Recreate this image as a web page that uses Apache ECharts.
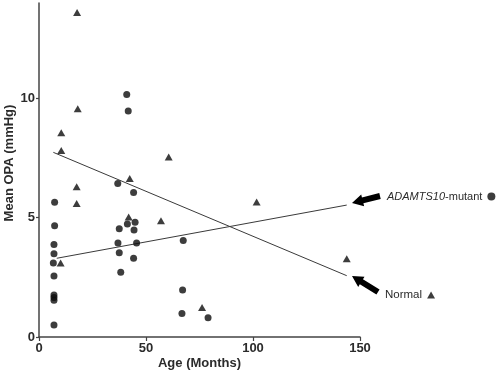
<!DOCTYPE html>
<html>
<head>
<meta charset="utf-8">
<script src="https://cdn.jsdelivr.net/npm/echarts@6/dist/echarts.min.js"></script>
<style>html,body{margin:0;padding:0;background:#fff;}#c{width:498px;height:373px;}</style>
</head>
<body>
<div id="c"></div>
<script>
// Age (months) and mean OPA (mmHg) — ADAMTS10-mutant dogs (circles)
var mutantAge = [7.3, 7.3, 7.0, 7.0, 6.7, 7.0, 7.0, 7.0, 7.0, 7.0,
  41.0, 41.7, 36.8, 44.2, 41.3, 44.9, 37.5, 44.4, 36.9, 45.6, 37.5, 44.2, 38.2,
  67.4, 67.1, 66.8, 79.0];
var mutantOPA = [5.65, 4.66, 3.88, 3.49, 3.10, 2.56, 1.76, 1.66, 1.54, 0.50,
  10.16, 9.47, 6.43, 6.06, 4.74, 4.81, 4.54, 4.48, 3.94, 3.94, 3.53, 3.30, 2.71,
  4.04, 1.97, 0.98, 0.81];
// Normal dogs (triangles)
var normalAge = [17.8, 18.1, 10.4, 10.4, 60.6, 42.4, 17.6, 17.6, 41.9, 57.0, 10.1, 101.7, 76.2, 143.8];
var normalOPA = [13.6, 9.57, 8.56, 7.82, 7.54, 6.64, 6.30, 5.60, 5.03, 4.87, 3.10, 5.66, 1.24, 3.28];
// Regression line end points [age, OPA]
var mutantFit = [[8.3, 3.30], [143.8, 5.53]];
var normalFit = [[6.7, 7.74], [143.8, 2.57]];
// Tick values
var xTicks = [0, 50, 100, 150];
var yTicks = [0, 5, 10];

function pairs(a, b) { return a.map(function (v, i) { return [v, b[i]]; }); }

function arrow(tip, tail, shaftW, headW, headL) {
  var dx = tail[0] - tip[0], dy = tail[1] - tip[1];
  var len = Math.sqrt(dx * dx + dy * dy);
  var ux = dx / len, uy = dy / len, px = -uy, py = ux;
  var bx = tip[0] + ux * headL, by = tip[1] + uy * headL;
  return [
    tip,
    [bx + px * headW / 2, by + py * headW / 2],
    [bx + px * shaftW / 2, by + py * shaftW / 2],
    [tail[0] + px * shaftW / 2, tail[1] + py * shaftW / 2],
    [tail[0] - px * shaftW / 2, tail[1] - py * shaftW / 2],
    [bx - px * shaftW / 2, by - py * shaftW / 2],
    [bx - px * headW / 2, by - py * headW / 2]
  ];
}

var ink = '#0d0d0d';
var txt = '#2b2b2b';
var font = '"Liberation Sans", Arial, sans-serif';

var chart = echarts.init(document.getElementById('c'));
chart.setOption({
  animation: false,
  backgroundColor: '#fff',
  grid: { left: 39, right: 138, top: 3, bottom: 36, containLabel: false, outerBoundsMode: 'none' },
  xAxis: {
    type: 'value', min: 0, max: 150, interval: 50,
    name: 'Age (Months)', nameLocation: 'middle', nameGap: 20, nameMoveOverlap: false,
    nameTextStyle: { fontFamily: font, fontWeight: 'bold', fontSize: 13, color: txt },
    splitLine: { show: false },
    axisLine: { onZero: false, lineStyle: { color: '#444', width: 1.5 } },
    axisTick: { length: 4, lineStyle: { color: '#444', width: 1.2 }, customValues: xTicks },
    axisLabel: { fontFamily: font, fontWeight: 'bold', fontSize: 13, color: txt, margin: 5, customValues: xTicks }
  },
  yAxis: {
    type: 'value', min: 0, max: 14, interval: 5,
    name: 'Mean OPA (mmHg)', nameLocation: 'middle', nameGap: 23, nameMoveOverlap: false,
    nameTextStyle: { fontFamily: font, fontWeight: 'bold', fontSize: 13, color: txt, padding: [0, 0, 0, 14] },
    splitLine: { show: false },
    axisLine: { show: true, onZero: false, lineStyle: { color: '#444', width: 1.5 } },
    axisTick: { show: true, length: 3, lineStyle: { color: '#444', width: 1.2 }, customValues: yTicks },
    axisLabel: { fontFamily: font, fontWeight: 'bold', fontSize: 13, color: txt, margin: 4, customValues: yTicks }
  },
  legend: [
    {
      data: [{ name: 'ADAMTS10-mutant', icon: 'circle' }],
      left: 382, top: 186, align: 'right', itemWidth: 8, itemHeight: 8, selectedMode: false,
      formatter: function () { return '{i|ADAMTS10}-mutant'; },
      textStyle: { fontFamily: font, fontSize: 11, color: txt, rich: { i: { fontStyle: 'italic', fontFamily: font, fontSize: 11, color: txt } } }
    },
    {
      data: [{ name: 'Normal', icon: 'triangle' }],
      left: 380, top: 284, align: 'right', itemWidth: 8, itemHeight: 7, selectedMode: false,
      textStyle: { fontFamily: font, fontSize: 11.5, color: txt }
    }
  ],
  series: [
    {
      name: 'ADAMTS10-mutant', type: 'scatter', symbol: 'circle', symbolSize: 7,
      itemStyle: { color: ink }, data: pairs(mutantAge, mutantOPA), z: 3
    },
    {
      name: 'Normal', type: 'scatter', symbol: 'triangle', symbolSize: [8, 7],
      itemStyle: { color: ink }, data: pairs(normalAge, normalOPA), z: 3
    },
    {
      name: 'mutantFit', type: 'line', data: mutantFit, symbol: 'none',
      lineStyle: { color: '#3a3a3a', width: 1 }, z: 2
    },
    {
      name: 'normalFit', type: 'line', data: normalFit, symbol: 'none',
      lineStyle: { color: '#3a3a3a', width: 1 }, z: 2
    }
  ],
  graphic: [
    { type: 'polygon', shape: { points: arrow([352, 203], [380, 196], 6, 12, 11) }, style: { fill: '#000' } },
    { type: 'polygon', shape: { points: arrow([352, 276], [378, 292], 6, 12, 11) }, style: { fill: '#000' } }
  ]
});
</script>
</body>
</html>
